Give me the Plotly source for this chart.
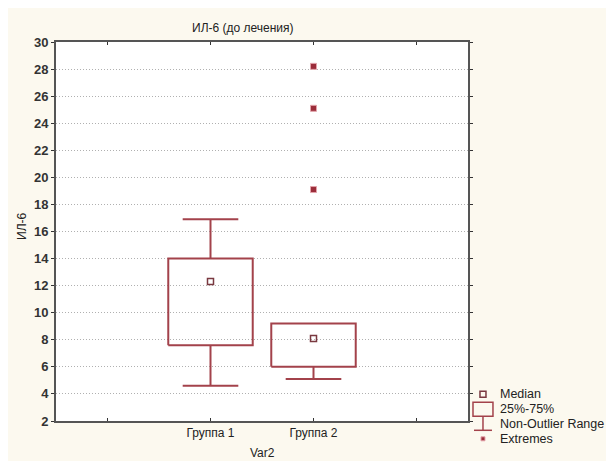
import plotly.graph_objects as go

# ---- data ----
groups = ["Группа 1", "Группа 2"]
medians = [12.3, 8.1]
q1 = [7.6, 6.0]
q3 = [14.0, 9.2]
whisker_low = [4.6, 5.1]
whisker_high = [16.9, 9.2]
extreme_groups = ["Группа 2", "Группа 2", "Группа 2"]
extreme_vals = [28.2, 25.1, 19.1]

x_tick_text = ["", "Группа 1", "Группа 2", ""]
y_ticks = list(range(2, 31, 2))

BOX_COLOR = "#A3424B"
MED_COLOR = "#7A3940"
FONT = "Liberation Sans, Arial, sans-serif"

OFF = 8  # page body margin
W, H = 614 - OFF, 461 - OFF
ML, MR, MT, MB = 55.5 - OFF, 146, 41.5 - OFF, 40.3
PW = W - ML - MR
PH = H - MT - MB

def px2paper(px, py):
    # px, py: page pixel coordinates
    px -= OFF
    py -= OFF
    return (px - ML) / PW, (H - MB - py) / PH

pos = {g: i + 1 for i, g in enumerate(groups)}
half_box = 0.41
half_cap = 0.27

fig = go.Figure()

for g, m, a, b, lo, hi in zip(groups, medians, q1, q3, whisker_low, whisker_high):
    x = pos[g]
    fig.add_trace(go.Scatter(
        x=[x - half_box, x + half_box, x + half_box, x - half_box, x - half_box],
        y=[a, a, b, b, a], mode="lines",
        line=dict(color=BOX_COLOR, width=2), showlegend=False, hoverinfo="skip"))
    wx, wy = [], []
    if hi > b:
        wx += [x, x, None, x - half_cap, x + half_cap, None]
        wy += [b, hi, None, hi, hi, None]
    if lo < a:
        wx += [x, x, None, x - half_cap, x + half_cap, None]
        wy += [a, lo, None, lo, lo, None]
    fig.add_trace(go.Scatter(x=wx, y=wy, mode="lines",
                             line=dict(color=BOX_COLOR, width=2),
                             showlegend=False, hoverinfo="skip"))

fig.add_trace(go.Scatter(
    x=[pos[g] for g in groups], y=medians, mode="markers",
    marker=dict(symbol="square-open", size=6, color=MED_COLOR, line=dict(width=1.5)),
    showlegend=False, hoverinfo="skip"))

fig.add_trace(go.Scatter(
    x=[pos[g] for g in extreme_groups], y=extreme_vals, mode="markers",
    marker=dict(symbol="square", size=6, color="#9B2D3A",
                line=dict(color="#E3A3AA", width=1)),
    showlegend=False, hoverinfo="skip"))

shapes = []

def rect(x0, y0, x1, y1, fill=None, lw=1.5, col=BOX_COLOR):
    ax0, ay0 = px2paper(x0, y0)
    ax1, ay1 = px2paper(x1, y1)
    d = dict(type="rect", xref="paper", yref="paper", x0=ax0, y0=ay0, x1=ax1, y1=ay1,
             line=dict(color=col, width=lw))
    if fill:
        d["fillcolor"] = fill
    return d

def line(x0, y0, x1, y1, lw=1.5):
    ax0, ay0 = px2paper(x0, y0)
    ax1, ay1 = px2paper(x1, y1)
    return dict(type="line", xref="paper", yref="paper", x0=ax0, y0=ay0, x1=ax1, y1=ay1,
                line=dict(color=BOX_COLOR, width=lw))

shapes.append(rect(480, 391, 486, 397, col=MED_COLOR))
shapes.append(rect(473, 402, 493, 416))
shapes.append(line(483, 416, 483, 430))
shapes.append(line(474, 430, 492, 430))
shapes.append(rect(481, 436.5, 485, 440.5, fill="#9B2D3A", lw=1, col="#E3A3AA"))

annotations = []
for txt, py in [("Median", 394), ("25%-75%", 409), ("Non-Outlier Range", 424), ("Extremes", 439)]:
    ax, ay = px2paper(498, py)
    annotations.append(dict(x=ax, y=ay, xref="paper", yref="paper", text=txt,
                            showarrow=False, xanchor="left", yanchor="middle",
                            font=dict(family=FONT, size=12.5, color="#222")))

tx, ty = px2paper(243, 27)
annotations.append(dict(x=tx, y=ty, xref="paper", yref="paper", text="ИЛ-6 (до лечения)",
                        showarrow=False, xanchor="center", yanchor="middle",
                        font=dict(family=FONT, size=12, color="#222")))
vx, vy = px2paper(262, 453)
annotations.append(dict(x=vx, y=vy, xref="paper", yref="paper", text="Var2",
                        showarrow=False, xanchor="center", yanchor="middle",
                        font=dict(family=FONT, size=12, color="#222")))
yx, yy = px2paper(22, 226)
annotations.append(dict(x=yx, y=yy, xref="paper", yref="paper", text="ИЛ-6",
                        showarrow=False, xanchor="center", yanchor="middle", textangle=-90,
                        font=dict(family=FONT, size=12, color="#222")))

fig.update_layout(
    width=W, height=H,
    margin=dict(l=ML, r=MR, t=MT, b=MB, pad=0),
    paper_bgcolor="#FCF9EF", plot_bgcolor="white",
    shapes=shapes, annotations=annotations,
    showlegend=False,
    xaxis=dict(range=[-0.5, 3.5], tickmode="array", tickvals=[0, 1, 2, 3],
               ticktext=x_tick_text, ticks="inside", ticklen=3, tickcolor="#333",
               showline=True, linecolor="#555", linewidth=2, mirror="allticks",
               showgrid=False, zeroline=False,
               tickfont=dict(family=FONT, size=12, color="#222"), fixedrange=True),
    yaxis=dict(range=[2, 30], tickmode="array", tickvals=y_ticks,
               ticks="outside", ticklen=3, tickcolor="#333",
               showline=True, linecolor="#555", linewidth=2, mirror="allticks",
               showgrid=True, gridcolor="#B0B0B0", griddash="1px,2px", gridwidth=1,
               zeroline=False,
               tickfont=dict(family=FONT, size=13, color="#333", weight="bold"),
               fixedrange=True),
)

fig.write_html("out.html")
